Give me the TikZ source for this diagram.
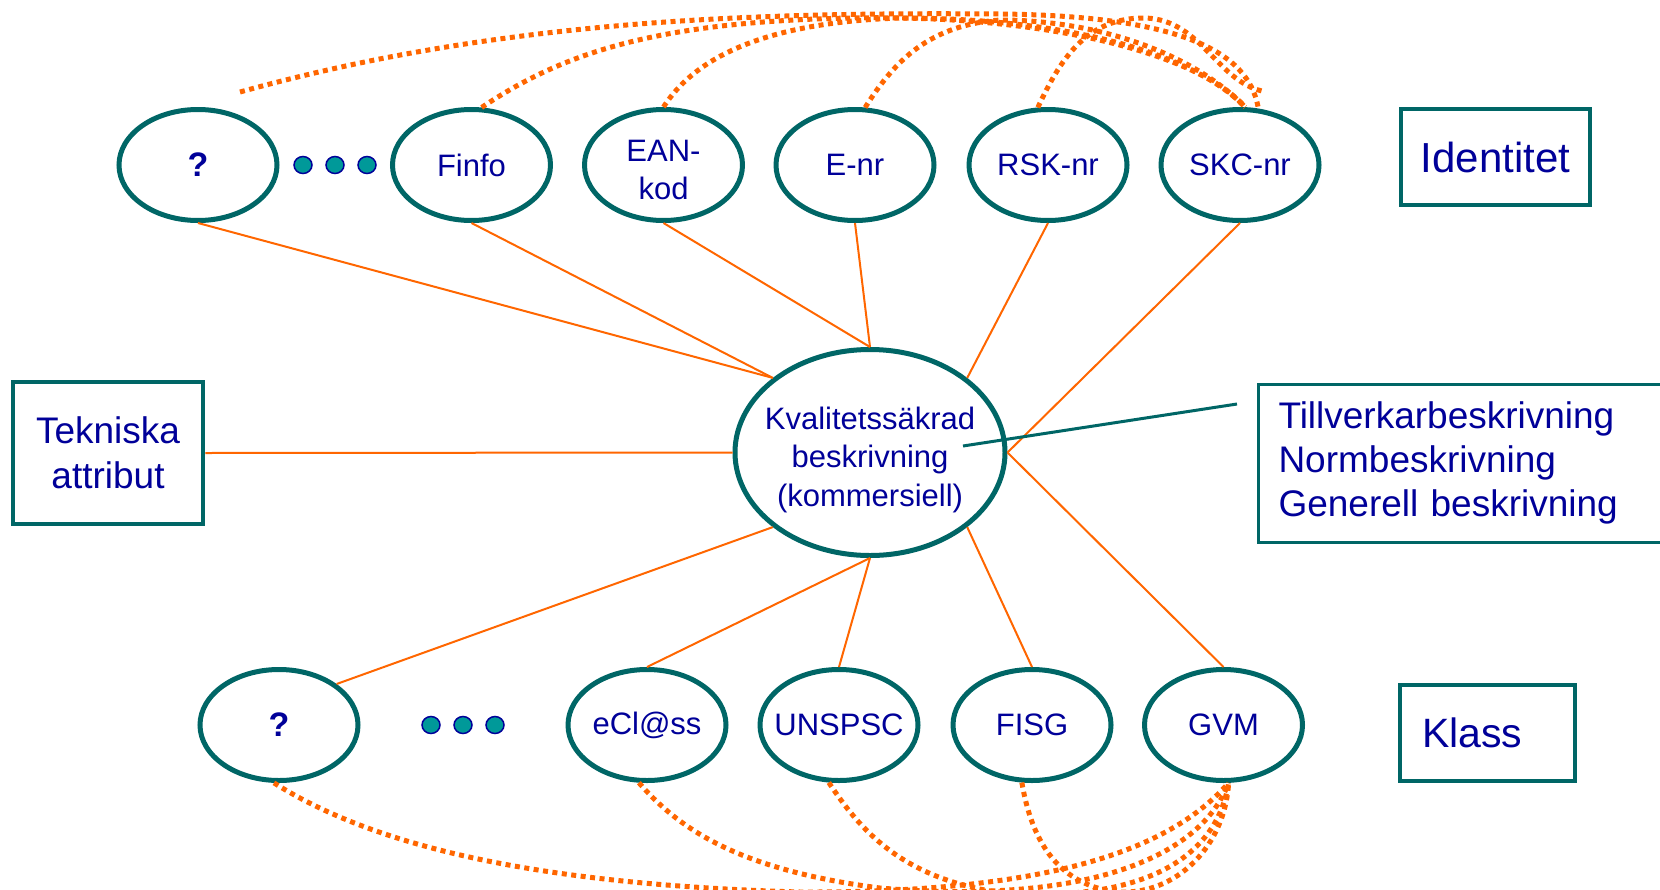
\documentclass[tikz,border=0pt]{standalone}
\usepackage{fontspec}
\setmainfont{Liberation Sans}
\usetikzlibrary{shapes.geometric}
\definecolor{tealc}{RGB}{0,102,102}
\definecolor{txtc}{RGB}{0,0,153}
\definecolor{orc}{RGB}{255,102,0}
\definecolor{dotc}{RGB}{0,153,153}
\newcommand\zbox[1]{\makebox[0pt]{#1}}
\newcommand\ztab[1]{\makebox[0pt]{\smash{\raisebox{-13.75pt}{\begin{tabular}{@{}c@{}}#1\end{tabular}}}}}
\begin{document}
\begin{tikzpicture}[x=1pt,y=-1pt,
  ell/.style={ellipse, draw=tealc, line width=5pt, fill=white, minimum width=158pt, minimum height=111pt, inner sep=0pt, text=txtc, font=\fontsize{31}{38}\selectfont},
  bx/.style={draw=tealc, line width=4.5pt, fill=white, text=txtc, inner sep=0pt},
  dotn/.style={ellipse, draw=txtc, line width=1.5pt, fill=dotc, minimum width=18pt, minimum height=17pt, inner sep=0pt},
  sol/.style={draw=orc, line width=2pt},
  dotl/.style={draw=orc, line width=5pt, dash pattern=on 5pt off 4.5pt},
  conn/.style={draw=tealc, line width=3pt}]
\useasboundingbox (0,0) rectangle (1660,889);
\clip (0,0) rectangle (1660,889);

% top row
\node[ell] (q1) at (198,165) {\zbox{\fontsize{34}{40}\selectfont\bfseries ?}};
\node[dotn] (d1) at (303,165) {};
\node[dotn] (d2) at (335,165) {};
\node[dotn] (d3) at (367,165) {};
\node[ell] (finfo) at (471.5,165) {\zbox{Finfo}};
\node[ell] (ean) at (663.5,165) {\ztab{EAN-\\kod}};
\node[ell] (enr) at (855,165) {\zbox{E-nr}};
\node[ell] (rsk) at (1048,165) {\zbox{RSK-nr}};
\node[ell] (skc) at (1240,165) {\zbox{SKC-nr}};
\node[bx, minimum width=189pt, minimum height=96pt, font=\fontsize{42}{50}\selectfont] (ident) at (1495.5,157) {Identitet};

% middle
\node[bx, minimum width=190pt, minimum height=142pt, align=center, font=\fontsize{37}{45}\selectfont] (tek) at (108,453) {Tekniska\\attribut};
\node[ell, minimum width=270pt, minimum height=206pt] (c) at (870,452.5) {\fontsize{31}{38.5}\selectfont\ztab{Kvalitetssäkrad\\beskrivning\\(kommersiell)}};
\node[draw=tealc, line width=3pt, fill=white, text=txtc, anchor=north west, minimum height=158pt, text width=400pt, inner xsep=20.5pt, inner ysep=0pt, align=left, font=\fontsize{37}{44}\selectfont] (rbox) at (1256.5,382.5) {Tillverkarbeskrivning\\Normbeskrivning\\Generell beskrivning};

% bottom row
\node[ell] (q2) at (279,725) {\zbox{\fontsize{34}{40}\selectfont\bfseries ?}};
\node[dotn] (d4) at (431,725) {};
\node[dotn] (d5) at (463,725) {};
\node[dotn] (d6) at (495,725) {};
\node[ell] (eclass) at (647,725) {\zbox{eCl@ss}};
\node[ell] (unspsc) at (839,725) {\zbox{UNSPSC}};
\node[ell] (fisg) at (1032,725) {\zbox{FISG}};
\node[ell] (gvm) at (1223.5,725) {\zbox{GVM}};
\node[bx, minimum width=175pt, minimum height=96pt, text width=131pt, inner xsep=22pt, align=left, font=\fontsize{41}{48}\selectfont] (klass) at (1487.5,733) {Klass};

% solid connectors
\draw[sol] (q1.south) -- (c.north west);
\draw[sol] (finfo.south) -- (c.north west);
\draw[sol] (ean.south) -- (c.north);
\draw[sol] (enr.south) -- (c.north);
\draw[sol] (rsk.south) -- (c.north east);
\draw[sol] (skc.south) -- (c.east);
\draw[sol] (tek.east) -- (c.west);
\draw[sol] (q2.north east) -- (c.south west);
\draw[sol] (eclass.north) -- (c.south);
\draw[sol] (unspsc.north) -- (c.south);
\draw[sol] (fisg.north) -- (c.south east);
\draw[sol] (gvm.north) -- (c.east);

% teal connector
\coordinate (tA) at (963,446);
\coordinate (tB) at (1237,404);
\draw[conn] (tA) -- (tB);

% dotted curves top
\coordinate (qfree) at (240,92);
\coordinate (rskfree) at (1262,91);
\draw[dotl] (qfree) .. controls (500,20) and (750,12) .. (1000,14) .. controls (1200,16) and (1250,60) .. (skc.72);
\draw[dotl] (finfo.80) .. controls (560,55) and (650,22) .. (850,18) .. controls (1050,14) and (1200,55) .. (skc.85);
\draw[dotl] (ean.north) .. controls (700,50) and (780,22) .. (900,18) .. controls (1060,18) and (1190,50) .. (skc.85);
\draw[dotl] (enr.80) .. controls (895,60) and (930,25) .. (1000,20) .. controls (1100,20) and (1195,55) .. (skc.85);
\draw[dotl] (rsk.100) .. controls (1060,60) and (1085,20) .. (1140,18) .. controls (1200,16) and (1215,80) .. (rskfree);

% dotted curves bottom
\draw[dotl] (q2.-95) .. controls (380,850) and (550,885) .. (800,892) .. controls (1050,893) and (1170,850) .. (gvm.-85);
\draw[dotl] (eclass.-98) .. controls (680,830) and (740,870) .. (880,888) .. controls (1080,905) and (1200,860) .. (gvm.-85);
\draw[dotl] (unspsc.-100) .. controls (860,830) and (900,875) .. (990,891) .. controls (1120,905) and (1215,870) .. (gvm.-85);
\draw[dotl] (fisg.-100) .. controls (1030,830) and (1050,880) .. (1110,891) .. controls (1170,900) and (1225,850) .. (gvm.-85);
\end{tikzpicture}
\end{document}
